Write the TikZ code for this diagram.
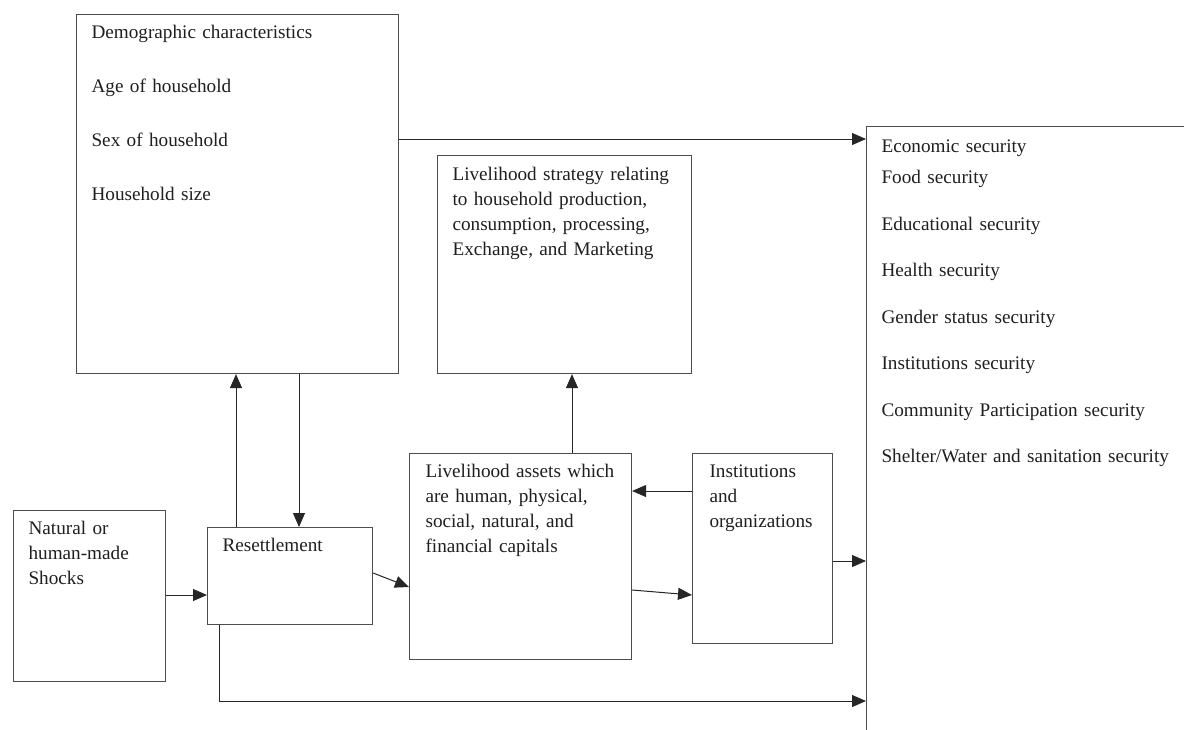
\documentclass[tikz,border=0pt]{standalone}
\usepackage{fontspec}
\setmainfont{Liberation Serif}[WordSpace=0.8]
\usetikzlibrary{arrows.meta}
\tikzset{
  box/.style  = {draw=black!70,line width=1.1pt,anchor=north west,align=left,
                 text=black!88,inner xsep=15pt,inner ysep=0pt,text height=24pt},
  conn/.style = {-{Triangle[length=14pt,width=12pt]},line width=1pt,black!85}
}

\begin{document}
\begin{tikzpicture}[x=1pt,y=-1pt,font=\fontsize{19.2}{25}\selectfont]
  \useasboundingbox (0,0) rectangle (1184,729);
  \clip (0,0) rectangle (1184,729);
  % boxes, placed by their top left corner
  \node[box,text width=292pt,text depth=335pt] (demo) at (76,14)
    {Demographic characteristics\\[29pt] Age of household\\[29pt]
     Sex of household\\[29pt] Household size};
  \node[box,text width=224pt,text height=25pt,text depth=193pt] (strategy) at (437,155)
    {Livelihood strategy relating\\ to household production,\\
     consumption, processing,\\ Exchange, and Marketing};
  \node[box,text width=330pt,text height=26pt,text depth=600pt] (outcome) at (866,126)
    {Economic security\\[6pt] Food security\\[21.5pt] Educational security\\[21.5pt]
     Health security\\[21.5pt] Gender status security\\[21.5pt]
     Institutions security\\[21.5pt] Community Participation security\\[21.5pt]
     Shelter/Water and sanitation security};
  \node[box,text width=122pt,text depth=147pt] (shocks) at (13,510)
    {Natural or\\ human-made\\ Shocks};
  \node[box,text width=135pt,text depth=73pt] (resettle) at (207,527) {Resettlement};
  \node[box,inner xsep=16pt,text width=190pt,text depth=182pt] (assets) at (409,453)
    {Livelihood assets which\\ are human, physical,\\ social, natural, and\\
     financial capitals};
  \node[box,inner xsep=17pt,text width=106pt,text depth=166pt] (inst) at (692,453)
    {Institutions\\ and\\ organizations};
  % connectors
  \draw[conn] (demo.east |- 0,139) -- (outcome.west |- 0,139);
  \draw[conn] (resettle.north -| 236,0) -- (demo.south -| 236,0);
  \draw[conn] (demo.south -| 299,0) -- (resettle.north -| 299,0);
  \draw[conn] (shocks.east |- 0,595) -- (resettle.west |- 0,595);
  \draw[conn] (resettle.east |- 0,573) -- (assets.west |- 0,587);
  \draw[conn] (assets.north -| 572,0) -- (strategy.south -| 572,0);
  \draw[conn] (inst.west |- 0,491) -- (assets.east |- 0,491);
  \draw[conn] (assets.east |- 0,590) -- (inst.west |- 0,595);
  \draw[conn] (inst.east |- 0,561) -- (outcome.west |- 0,561);
  \draw[conn] (resettle.south -| 219,0) |- (outcome.west |- 0,701);
\end{tikzpicture}
\end{document}
